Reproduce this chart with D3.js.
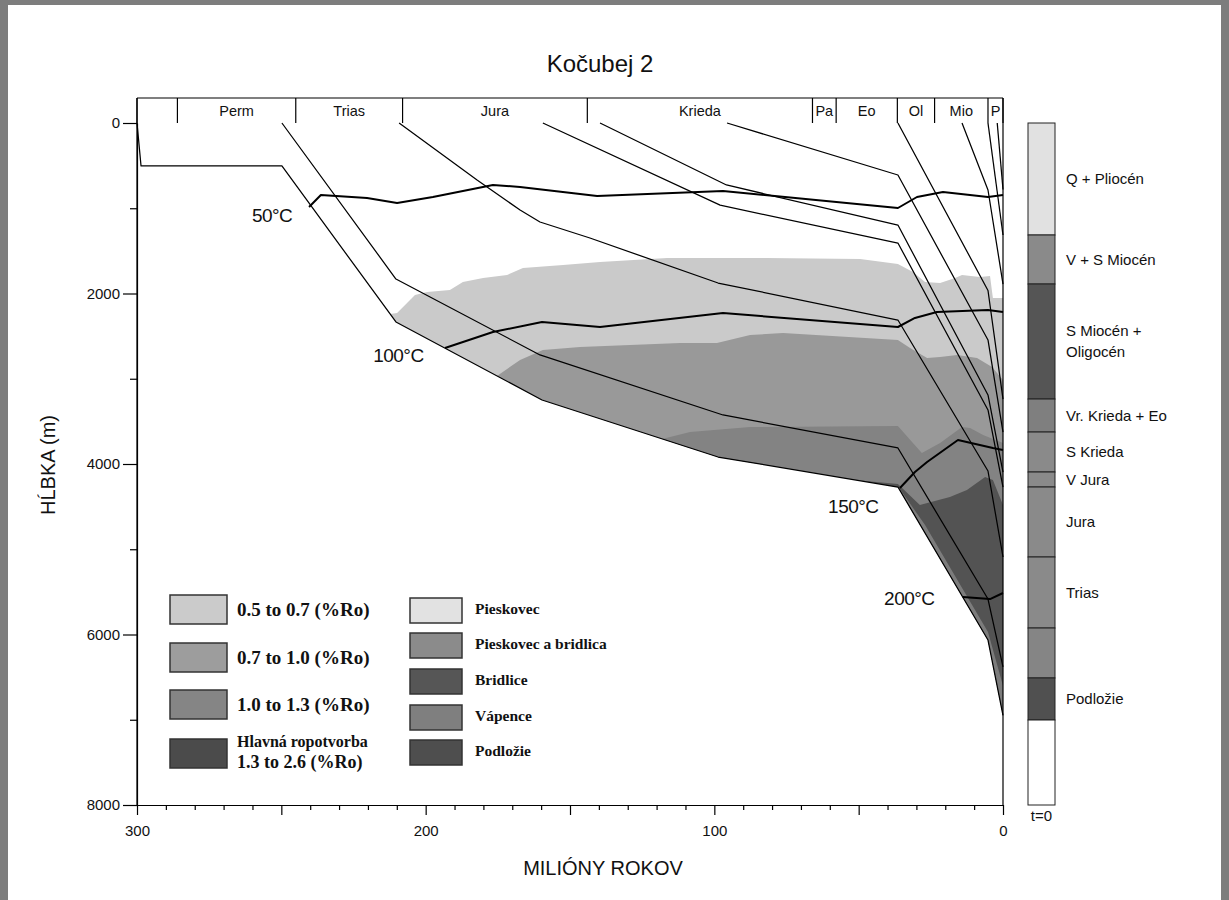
<!DOCTYPE html>
<html>
<head>
<meta charset="utf-8">
<script src="https://cdn.jsdelivr.net/npm/d3@7"></script>
<style>
  body { margin: 0; background: #fff; }
  svg { display: block; }
  text { font-family: Arial, "Liberation Sans", Helvetica, sans-serif; fill: #111; }
  .serif { font-family: "Liberation Serif", "Times New Roman", serif; font-weight: bold; }
</style>
</head>
<body>
<svg id="chart" width="1229" height="900"></svg>
<script>
// ---- Time scale header (Ma) ----
const periodBounds = [300, 286, 245, 208, 144, 66, 57.8, 36.6, 23.7, 5.2, 0];
const periodNames  = ["", "Perm", "Trias", "Jura", "Krieda", "Pa", "Eo", "Ol", "Mio", "P"];

// ---- Axis ticks ----
const depthMajor = [0, 2000, 4000, 6000, 8000];
const depthMinor = [1000, 3000, 5000, 7000];
const ageMajor   = [300, 200, 100, 0];
const ageMid     = [250, 150, 50];
const ageMinor   = d3.range(0, 301, 10).filter(v => v % 50 !== 0);

// ---- Burial curves: [age Ma, depth m] ----
const horizonA = [[300,0],[298.6,504],[249.8,504],[210.3,2334],[159.7,3249],[98.7,3918],[36.4,4270],[5.2,6065],[0,6950]];
const horizonB = [[249.8,0],[210.3,1830],[160.4,2721],[97.0,3425],[36.4,3812],[5.2,5584],[0,6380]];
const horizonC = [[209.2,0],[182.2,669],[167.3,1021],[160.4,1161],[143.1,1349],[98.7,1877],[36.4,2311],[5.2,4082],[0,5091]];
const horizonD = [[159.4,0],[98.0,964],[36.4,1408],[5.2,3366],[0,4270]];
const horizonE = [[139.6,0],[95.8,727],[36.4,1197],[5.2,3190],[0,4094]];
const horizonF = [[95.6,0],[36.4,610],[5.2,2545],[0,3625]];
const horizonG = [[36.4,0],[5.2,1965],[0,3238]];
const horizonH = [[14.2,0],[5.2,786],[0,1889]];
const horizonI = [[5.2,0],[0,1314]];
const horizonJ = [[2.0,0],[0,780]];
const horizons = [horizonA, horizonB, horizonC, horizonD, horizonE, horizonF, horizonG, horizonH, horizonI, horizonJ];

// ---- Maturity zones: upper boundary of each zone (lower boundary = horizonA) ----
const zone05 = [[212.3,2240],[209.9,2229],[203.7,2018],[199.5,1982],[191.6,1959],[187.1,1865],[180.1,1818],[171.8,1783],[166.3,1701],[152.4,1666],[139.6,1630],[116.4,1584],[81.8,1584],[49.5,1595],[36.4,1654],[31.2,1748],[27.0,1865],[21.8,1877],[16.6,1818],[14.2,1783],[8.0,1806],[4.5,1795],[3.5,2053],[0,2053]];
const zone07 = [[175.3,2968],[167.3,2780],[159.4,2663],[146.5,2628],[111.9,2581],[99.1,2581],[87.6,2487],[76.2,2463],[36.4,2545],[32.2,2639],[26.3,2757],[21.8,2745],[15.9,2721],[9.0,2757],[3.8,2862],[0,3015]];
const zone10 = [[118.1,3707],[108.4,3625],[87.6,3566],[36.4,3554],[31.2,3754],[28.1,3871],[21.8,3754],[14.2,3566],[11.4,3578],[6.9,3660],[0,3754]];
const zone13 = [[49.5,4195],[36.4,4235],[28.8,4481],[18.4,4387],[12.5,4305],[6.2,4153],[3.5,4188],[0,4481]];
const zone26 = [[36.4,4262],[27.0,4716],[5.2,5971],[0,6600]];
const zoneTops   = [zone05, zone07, zone10, zone13, zone26];
const zoneColors = ["#cacaca", "#999999", "#838383", "#535353", "#7c7c7c"];

// ---- Isotherms ----
const iso50  = [[240.4,985],[236.3,845],[220.3,880],[209.9,938],[197.5,868],[176.7,727],[167.3,751],[140.6,856],[97.0,798],[36.4,997],[29.8,868],[20.8,809],[5.2,868],[0,845]];
const iso100 = [[193.3,2639],[176.7,2452],[159.7,2334],[139.6,2393],[97.0,2229],[36.4,2393],[30.5,2287],[22.9,2217],[5.2,2194],[0,2217]];
const iso150 = [[35.7,4282],[30.5,4094],[26.3,3977],[15.6,3718],[3.5,3812],[0,3836]];
const iso200 = [[13.9,5560],[4.5,5584],[0,5513]];
const isotherms = [iso50, iso100, iso150, iso200];
const isoLabels = ["50°C", "100°C", "150°C", "200°C"];
const isoLabelPos = [[260.2, 1160], [218.2, 2800], [60.6, 4570], [41.2, 5650]]; // [age, depth] of label start

// ---- Present-day stratigraphic column (depth m) ----
const columnBounds = [0, 1314, 1889, 3238, 3625, 4094, 4270, 5091, 5924, 6510, 7003, 8000];
const columnNames  = [["Q + Pliocén"], ["V + S Miocén"], ["S Miocén +", "Oligocén"], ["Vr. Krieda + Eo"], ["S Krieda"], ["V Jura"], ["Jura"], ["Trias"], [], ["Podložie"], []];
const columnColors = ["#e1e1e1", "#8a8a8a", "#555555", "#7f7f7f", "#8a8a8a", "#8a8a8a", "#8a8a8a", "#8a8a8a", "#858585", "#505050", "#ffffff"];

// ---- Legends ----
const roLabels   = [["0.5 to 0.7 (%Ro)"], ["0.7 to 1.0 (%Ro)"], ["1.0 to 1.3 (%Ro)"], ["Hlavná ropotvorba", "1.3 to 2.6 (%Ro)"]];
const roColors   = ["#cbcbcb", "#9d9d9d", "#858585", "#4b4b4b"];
const lithLabels = ["Pieskovec", "Pieskovec a bridlica", "Bridlice", "Vápence", "Podložie"];
const lithColors = ["#e2e2e2", "#8b8b8b", "#565656", "#7f7f7f", "#4e4e4e"];

// ================= drawing =================
const svg = d3.select("#chart");
const x = d3.scaleLinear().domain([300, 0]).range([137, 1003]);
const y = d3.scaleLinear().domain([0, 8000]).range([123, 805]);
const line = d3.line().x(d => x(d[0])).y(d => y(d[1]));

// page frame
svg.append("rect").attr("x", 0).attr("y", 0).attr("width", 1229).attr("height", 900).attr("fill", "#fff");
svg.append("rect").attr("x", 0).attr("y", 0).attr("width", 1229).attr("height", 5).attr("fill", "#7d7d7d");
svg.append("rect").attr("x", 0).attr("y", 0).attr("width", 8).attr("height", 900).attr("fill", "#7d7d7d");
svg.append("rect").attr("x", 1221).attr("y", 0).attr("width", 8).attr("height", 900).attr("fill", "#7d7d7d");

// title
svg.append("text").attr("x", 600).attr("y", 72).attr("text-anchor", "middle")
  .style("font-size", "24px").text("Kočubej 2");

// maturity zones: each polygon = its top boundary followed by horizonA back to its start
zoneTops.forEach((top, i) => {
  const start = top[0][0];
  const base = horizonA.filter(p => p[0] < start).slice().reverse();
  const poly = top.concat(base);
  svg.append("path").attr("d", line(poly) + "Z").attr("fill", zoneColors[i]).attr("stroke", "none");
});

// burial curves
horizons.forEach(h => {
  svg.append("path").attr("d", line(h)).attr("fill", "none")
    .attr("stroke", "#000").attr("stroke-width", 1.25).attr("stroke-linejoin", "round");
});

// isotherms
isotherms.forEach(t => {
  svg.append("path").attr("d", line(t)).attr("fill", "none")
    .attr("stroke", "#000").attr("stroke-width", 2).attr("stroke-linejoin", "round");
});
isoLabels.forEach((t, i) => {
  svg.append("text").attr("x", x(isoLabelPos[i][0])).attr("y", y(isoLabelPos[i][1]))
    .style("font-size", "19px").style("letter-spacing", "-0.5px").text(t);
});

// plot frame
const frame = svg.append("g").attr("fill", "none").attr("stroke", "#000").attr("stroke-width", 1.2);
frame.append("line").attr("x1", x(0)).attr("x2", x(0)).attr("y1", 98).attr("y2", y(8000));
frame.append("line").attr("x1", x(300)).attr("x2", x(300)).attr("y1", 98).attr("y2", y(8000));
frame.append("line").attr("x1", x(300)).attr("x2", x(0)).attr("y1", 98).attr("y2", 98);

// period header
periodBounds.forEach(b => {
  frame.append("line").attr("x1", x(b)).attr("x2", x(b)).attr("y1", 98).attr("y2", y(0));
});
periodNames.forEach((n, i) => {
  if (!n) return;
  svg.append("text").attr("x", (x(periodBounds[i]) + x(periodBounds[i + 1])) / 2).attr("y", 116)
    .attr("text-anchor", "middle").style("font-size", "14.5px").text(n);
});

// axes
function styleAxis(g) {
  g.select(".domain").attr("stroke", "#000").attr("stroke-width", 1.2);
  g.selectAll(".tick line").attr("stroke", "#000").attr("stroke-width", 1.2);
  g.selectAll("text").style("font-family", "Arial, 'Liberation Sans', sans-serif")
    .style("font-size", "15px").attr("fill", "#111");
}
svg.append("g").attr("transform", `translate(${x(300)},0)`)
  .call(d3.axisLeft(y).tickValues(depthMajor).tickSize(14).tickSizeOuter(0).tickPadding(3).tickFormat(d3.format("d")))
  .call(styleAxis);
svg.append("g").attr("transform", `translate(${x(300)},0)`)
  .call(d3.axisLeft(y).tickValues(depthMinor).tickSize(7).tickSizeOuter(0).tickFormat(""))
  .call(styleAxis).select(".domain").remove();
svg.append("g").attr("transform", `translate(0,${y(8000)})`)
  .call(d3.axisBottom(x).tickValues(ageMajor).tickSize(10).tickSizeOuter(0).tickPadding(10).tickFormat(d3.format("d")))
  .call(styleAxis);
svg.append("g").attr("transform", `translate(0,${y(8000)})`)
  .call(d3.axisBottom(x).tickValues(ageMid).tickSize(10).tickSizeOuter(0).tickFormat(""))
  .call(styleAxis).select(".domain").remove();
svg.append("g").attr("transform", `translate(0,${y(8000)})`)
  .call(d3.axisBottom(x).tickValues(ageMinor).tickSize(5).tickSizeOuter(0).tickFormat(""))
  .call(styleAxis).select(".domain").remove();

// axis titles
svg.append("text").attr("transform", "translate(55,465) rotate(-90)").attr("text-anchor", "middle")
  .style("font-size", "20px").text("HĹBKA (m)");
svg.append("text").attr("x", 603).attr("y", 875).attr("text-anchor", "middle")
  .style("font-size", "20px").text("MILIÓNY ROKOV");

// stratigraphic column
const colX = 1028, colW = 27;
columnColors.forEach((c, i) => {
  svg.append("rect").attr("x", colX).attr("y", y(columnBounds[i]))
    .attr("width", colW).attr("height", y(columnBounds[i + 1]) - y(columnBounds[i]))
    .attr("fill", c).attr("stroke", "#222").attr("stroke-width", 1);
  const names = columnNames[i];
  const mid = (y(columnBounds[i]) + y(columnBounds[i + 1])) / 2;
  names.forEach((n, j) => {
    svg.append("text").attr("x", colX + colW + 11)
      .attr("y", mid + 5 + (j - (names.length - 1) / 2) * 21)
      .style("font-size", "15px").text(n);
  });
});
svg.append("text").attr("x", colX + colW / 2).attr("y", 821).attr("text-anchor", "middle")
  .style("font-size", "15px").text("t=0");

// legend: vitrinite reflectance
const roY = [595, 643, 690, 739];
roLabels.forEach((lab, i) => {
  svg.append("rect").attr("x", 170).attr("y", roY[i]).attr("width", 57).attr("height", 29)
    .attr("fill", roColors[i]).attr("stroke", "#333").attr("stroke-width", 1.5);
  if (lab.length === 1) {
    svg.append("text").attr("class", "serif").attr("x", 237).attr("y", roY[i] + 21)
      .style("font-size", "19px").text(lab[0]);
  } else {
    svg.append("text").attr("class", "serif").attr("x", 237).attr("y", roY[i] + 8)
      .style("font-size", "16px").text(lab[0]);
    svg.append("text").attr("class", "serif").attr("x", 237).attr("y", roY[i] + 29)
      .style("font-size", "18px").text(lab[1]);
  }
});

// legend: lithology
const lithY = [598, 633, 669, 705, 740];
lithLabels.forEach((lab, i) => {
  svg.append("rect").attr("x", 410).attr("y", lithY[i]).attr("width", 52).attr("height", 25)
    .attr("fill", lithColors[i]).attr("stroke", "#333").attr("stroke-width", 1.5);
  svg.append("text").attr("class", "serif").attr("x", 475).attr("y", lithY[i] + 16)
    .style("font-size", "15.5px").text(lab);
});
</script>
</body>
</html>
